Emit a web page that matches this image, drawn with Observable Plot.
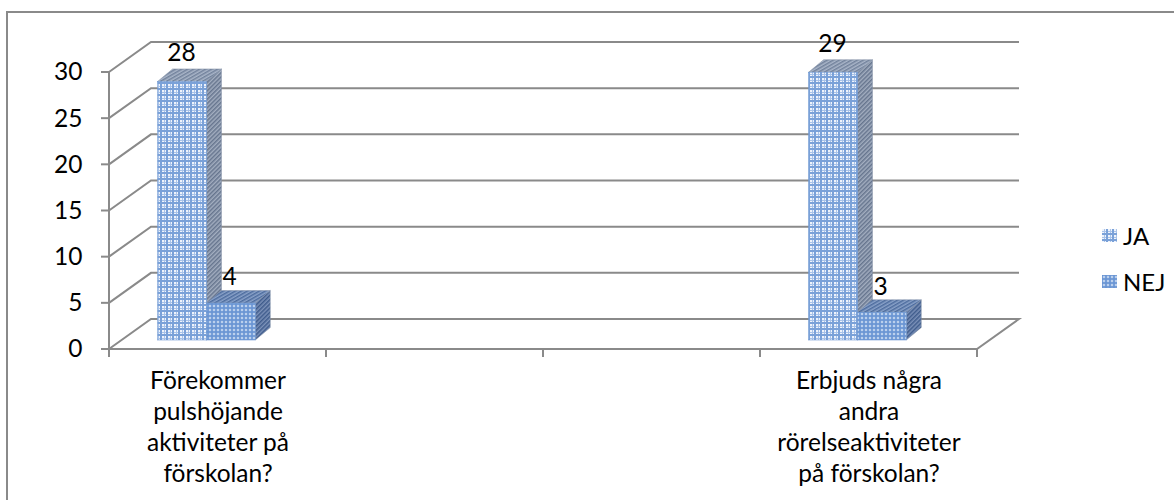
<!DOCTYPE html>
<html><head><meta charset="utf-8">
<script src="https://cdn.jsdelivr.net/npm/d3@7"></script>
<script src="https://cdn.jsdelivr.net/npm/@observablehq/plot@0.6"></script>
<style>
html,body{margin:0;padding:0;background:#fff;overflow:hidden}
#wrap{position:relative;width:1174px;height:500px;overflow:hidden;font-family:Lato,"Open Sans",sans-serif}
#border{position:absolute;left:6px;top:11px;width:1200px;height:600px;border:2px solid #8a8a8a}
#chart{position:absolute;left:0;top:0}
#legend{position:absolute;left:1102px;top:212px;font-size:24px;color:#000}
.item{display:flex;align-items:center;height:46px}
.item svg{margin-right:6px}
</style>
</head><body>
<svg width="0" height="0" style="position:absolute">
<defs>
<pattern id="jaFront" width="6" height="6" patternUnits="userSpaceOnUse">
<rect width="6" height="6" fill="#eef3fb"/>
<rect x="2" width="1" height="6" fill="#a9c3e9"/>
<rect y="2" width="6" height="1" fill="#a9c3e9"/>
<rect x="4" width="2" height="6" fill="#7aa1d8"/>
<rect y="4" width="6" height="2" fill="#7aa1d8"/>
</pattern>
<pattern id="jaSide" width="3" height="3" patternUnits="userSpaceOnUse" patternTransform="rotate(45)">
<rect width="3" height="3" fill="#a3aec0"/>
<rect width="1.5" height="3" fill="#66758e"/>
</pattern>
<pattern id="jaTop" width="3" height="3" patternUnits="userSpaceOnUse" patternTransform="rotate(60)">
<rect width="3" height="3" fill="#aab6c9"/>
<rect width="1.5" height="3" fill="#72829c"/>
</pattern>
<pattern id="nejFront" width="4" height="4" patternUnits="userSpaceOnUse">
<rect width="4" height="4" fill="#6b96d4"/>
<path d="M2,0.5L3.5,2L2,3.5L0.5,2Z" fill="#c6d8f1"/>
</pattern>
<pattern id="nejSide" width="3" height="3" patternUnits="userSpaceOnUse" patternTransform="rotate(45)">
<rect width="3" height="3" fill="#7b91b8"/>
<rect width="1.5" height="3" fill="#3f5c8c"/>
</pattern>
<pattern id="nejTop" width="3" height="3" patternUnits="userSpaceOnUse" patternTransform="rotate(60)">
<rect width="3" height="3" fill="#8aa2c9"/>
<rect width="1.5" height="3" fill="#4d6c9e"/>
</pattern>
</defs>
</svg>
<div id="wrap">
<div id="border"></div>
<div id="chart"></div>
<div id="legend"></div>
</div>
<script>
// ---- data ----
const categories = [
  "Förekommer\npulshöjande\naktiviteter på\nförskolan?",
  "",
  "",
  "Erbjuds några\nandra\nrörelseaktiviteter\npå förskolan?"
];
const seriesNames = ["JA", "NEJ"];
const jaValues = [28, null, null, 29];
const nejValues = [4, null, null, 3];
const yTicks = [0, 5, 10, 15, 20, 25, 30];

// ---- styling / geometry constants ----
const FONT = "Lato, 'Open Sans', sans-serif";
const FS = 24.5;
const GRID = "#8a8a8a";
const BACK = [42, -30];     // back wall offset
const PLANE = [12.6, -9];   // bar plane offset
const DEPTH = [15, -12.5];  // bar depth
const fills = [
  {front: "url(#jaFront)", side: "url(#jaSide)", top: "url(#jaTop)"},
  {front: "url(#nejFront)", side: "url(#nejSide)", top: "url(#nejTop)"}
];
const idx = categories.map((_, i) => i);
const series = [jaValues, nejValues];

function bwOf(sx) { return typeof sx.bandwidth === "function" ? sx.bandwidth() : 0; }

function walls(index, scales) {
  const sx = scales.x, sy = scales.y;
  const bw = bwOf(sx);
  const xL = sx(0), xR = sx(idx.length - 1) + bw;
  const y0 = sy(0);
  const g = d3.create("svg:g").attr("stroke", GRID).attr("stroke-width", 2).attr("fill", "none");
  for (const t of yTicks) {
    const yy = sy(t);
    if (t > 0) g.append("path").attr("d", `M${xL},${yy}L${xL + BACK[0]},${yy + BACK[1]}L${xR + BACK[0]},${yy + BACK[1]}`);
    g.append("line").attr("x1", xL - 8).attr("x2", xL).attr("y1", yy).attr("y2", yy);
  }
  g.append("path").attr("d", `M${xL},${y0}L${xL + BACK[0]},${y0 + BACK[1]}L${xR + BACK[0]},${y0 + BACK[1]}L${xR},${y0}Z`);
  g.append("line").attr("x1", xL).attr("x2", xL).attr("y1", sy(30)).attr("y2", y0 + 8);
  for (let i = 1; i <= idx.length; i++) {
    const xx = i < idx.length ? sx(i) : xR;
    g.append("line").attr("x1", xx).attr("x2", xx).attr("y1", y0).attr("y2", y0 + 8);
  }
  return g.node();
}

function bars(index, scales) {
  const sx = scales.x, sy = scales.y;
  const bw = bwOf(sx);
  const g = d3.create("svg:g");
  for (const i of idx) {
    series.forEach((vals, s) => {
      const v = vals[i];
      if (v == null) return;
      const x1 = sx(i) + 0.166 * bw + s * 0.225 * bw + PLANE[0];
      const x2 = x1 + 0.225 * bw;
      const yb = sy(0) + PLANE[1];
      const yt = sy(v) + PLANE[1];
      const [dx, dy] = DEPTH;
      g.append("path").attr("fill", fills[s].side).attr("stroke", "#7d8aa0").attr("stroke-width", 0.5)
        .attr("d", `M${x2},${yb}L${x2 + dx},${yb + dy}L${x2 + dx},${yt + dy}L${x2},${yt}Z`);
      g.append("path").attr("fill", fills[s].top).attr("stroke", "#7d8aa0").attr("stroke-width", 0.5)
        .attr("d", `M${x1},${yt}L${x1 + dx},${yt + dy}L${x2 + dx},${yt + dy}L${x2},${yt}Z`);
      g.append("rect").attr("fill", fills[s].front).attr("stroke", "#6f98d2").attr("stroke-width", 0.6)
        .attr("x", x1).attr("y", yt).attr("width", x2 - x1).attr("height", yb - yt);
    });
  }
  return g.node();
}

const chart = Plot.plot({
  width: 1174,
  height: 500,
  marginLeft: 108,
  marginRight: 197,
  marginTop: 72,
  marginBottom: 151,
  style: {fontFamily: FONT, fontSize: FS + "px", color: "#000", background: "transparent", overflow: "visible"},
  x: {type: "band", domain: idx, padding: 0, axis: null},
  y: {domain: [0, 30], axis: null},
  marks: [
    walls,
    bars,
    Plot.axisY(yTicks, {tickSize: 0, tickPadding: 26, fontSize: FS, fontFamily: FONT, fill: "#000"}),
    Plot.text(idx, {x: d => d, frameAnchor: "bottom", text: d => categories[d], lineAnchor: "top", dy: 18, lineHeight: 1.26, fontSize: FS, fill: "#000"}),
    Plot.text(idx.filter(i => jaValues[i] != null), {x: d => d, y: d => jaValues[d], text: d => String(jaValues[d]), dx: -36.5, dy: -37.5, fontSize: FS, fill: "#000"}),
    Plot.text(idx.filter(i => nejValues[i] != null), {x: d => d, y: d => nejValues[d], text: d => String(nejValues[d]), dx: 11.5, dy: -35, fontSize: FS, fill: "#000"})
  ]
});
document.getElementById("chart").appendChild(chart);

const legend = d3.select("#legend");
seriesNames.forEach((name, s) => {
  const it = legend.append("div").attr("class", "item");
  const sv = it.append("svg").attr("width", 15).attr("height", 13);
  sv.append("rect").attr("width", 15).attr("height", 13).attr("fill", fills[s].front);
  it.append("span").text(name);
});
</script>
</body></html>
